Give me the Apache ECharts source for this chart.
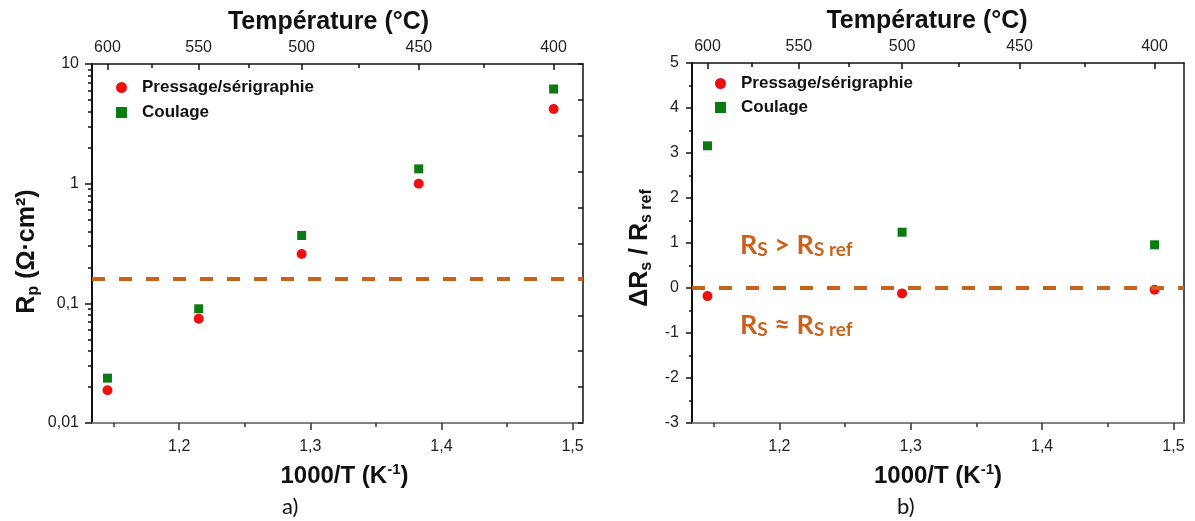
<!DOCTYPE html>
<html><head><meta charset="utf-8">
<script src="https://cdn.jsdelivr.net/npm/echarts@6/dist/echarts.min.js"></script>
<style>html,body{margin:0;padding:0;background:#fff}#c{width:1195px;height:521px}</style>
</head><body><div id="c"></div>
<script>
// ---- data ----
const invT_A = [1.1453, 1.2149, 1.2934, 1.3827, 1.4856];   // 1000/T (K^-1) at 600,550,500,450,400 °C
const rpPressage = [0.0188, 0.0744, 0.258, 1.00, 4.21];
const rpCoulage  = [0.0237, 0.090, 0.369, 1.33, 6.18];
const rpThreshold = 0.16;

const invT_B = [1.1453, 1.2934, 1.4856];                     // 600, 500, 400 °C
const dRsPressage = [-0.18, -0.12, -0.04];
const dRsCoulage  = [3.16, 1.24, 0.96];
const dRsThreshold = 0;

const tempMajorTicks = [600, 550, 500, 450, 400];
const tempMinorTicks = [575, 525, 475, 425];
const xMajorTicks = [1.2, 1.3, 1.4, 1.5];
const xMinorTicks = [1.15, 1.25, 1.35, 1.45];
const logMinorTicks = [0.02,0.03,0.04,0.05,0.06,0.07,0.08,0.09,0.2,0.3,0.4,0.5,0.6,0.7,0.8,0.9,2,3,4,5,6,7,8,9];

const seriesNames = ['Pressage/sérigraphie', 'Coulage'];

// ---- style ----
const RED = '#F00F0F', GREEN = '#0B7A10', ORANGE = '#C9631C';
const X_MIN = 1.1335, X_MAX = 1.508;
const FONT = 'Liberation Sans';
const NAME_SIZE = 25;
const toInvT = t => 1000 / (t + 273.15);
const comma = v => String(v).replace('.', ',');

const chart = echarts.init(document.getElementById('c'), null, {renderer: 'canvas'});

function xAxesFor(gi, topPad, botPad) {
  return [
    { // bottom major
      gridIndex: gi, type: 'value', position: 'bottom', min: X_MIN, max: X_MAX,
      axisLine: {onZero: false, lineStyle: {color: '#808080', width: 2}},
      axisTick: {inside: false, length: 7, lineStyle: {color: '#333', width: 1.5}, customValues: xMajorTicks},
      axisLabel: {customValues: xMajorTicks, formatter: v => v.toFixed(1).replace('.', ','), margin: 16, fontSize: 16, color: '#222', fontFamily: FONT},
      splitLine: {show: false},
      name: '{b|1000/T (K}{sup|-1}{b|)}', nameLocation: 'middle', nameGap: 39,
      nameTextStyle: {padding: botPad, rich: {
        b: {fontSize: 24, fontWeight: 'bold', fontFamily: FONT, color: '#111'},
        sup: {fontSize: 15, fontWeight: 'bold', fontFamily: FONT, color: '#111', padding: [0,0,14,0]}
      }}
    },
    { // bottom minor
      gridIndex: gi, type: 'value', position: 'bottom', min: X_MIN, max: X_MAX,
      axisLine: {show: false, onZero: false},
      axisTick: {inside: false, length: 4, lineStyle: {color: '#333', width: 1.5}, customValues: xMinorTicks},
      axisLabel: {show: false}, splitLine: {show: false}
    },
    { // top major (temperature)
      gridIndex: gi, type: 'value', position: 'top', min: X_MIN, max: X_MAX,
      axisLine: {onZero: false, lineStyle: {color: '#111', width: 1.5}},
      axisTick: {inside: true, length: 6, lineStyle: {color: '#111', width: 1.5}, customValues: tempMajorTicks.map(toInvT)},
      axisLabel: {customValues: tempMajorTicks.map(toInvT), formatter: v => String(Math.round(1000 / v - 273.15)), margin: 8, fontSize: 16, color: '#222', fontFamily: FONT},
      splitLine: {show: false},
      name: 'Température (°C)', nameLocation: 'middle', nameGap: 25,
      nameTextStyle: {fontSize: NAME_SIZE, fontWeight: 'bold', fontFamily: FONT, color: '#111', padding: topPad}
    },
    { // top minor
      gridIndex: gi, type: 'value', position: 'top', min: X_MIN, max: X_MAX,
      axisLine: {show: false, onZero: false},
      axisTick: {inside: true, length: 4, lineStyle: {color: '#111', width: 1.5}, customValues: tempMinorTicks.map(toInvT)},
      axisLabel: {show: false}, splitLine: {show: false}
    }
  ];
}

const yAxes = [
  { // 0: left log
    gridIndex: 0, type: 'log', logBase: 10, min: 0.01, max: 10, position: 'left',
    axisLine: {onZero: false, lineStyle: {color: '#111', width: 2}},
    axisTick: {inside: false, length: 7, lineStyle: {color: '#111', width: 1.5}},
    axisLabel: {formatter: comma, margin: 13, fontSize: 16, color: '#222', fontFamily: FONT},
    splitLine: {show: false},
    name: '{b|R}{sub|p}{b| (Ω·cm²)}', nameLocation: 'middle', nameRotate: 90, nameGap: 50,
    nameTextStyle: {padding: [0, 16, 0, 0], rich: {
      b: {fontSize: NAME_SIZE, fontWeight: 'bold', fontFamily: FONT, color: '#111'},
      sub: {fontSize: 16, fontWeight: 'bold', fontFamily: FONT, color: '#111', padding: [14,0,0,0]}
    }}
  },
  { // 1: left log minor ticks
    gridIndex: 0, type: 'log', logBase: 10, min: 0.01, max: 10, position: 'left',
    axisLine: {show: false, onZero: false},
    axisTick: {inside: false, length: 4, lineStyle: {color: '#111', width: 1.5}, customValues: logMinorTicks},
    axisLabel: {show: false}, splitLine: {show: false}
  },
  { // 2: right frame with inward ticks
    gridIndex: 0, type: 'value', min: 0, max: 10, interval: 1, position: 'right',
    axisLine: {onZero: false, lineStyle: {color: '#111', width: 1.5}},
    axisTick: {inside: true, length: 5, lineStyle: {color: '#111', width: 1.5}},
    axisLabel: {show: false}, splitLine: {show: false}
  },
  { // 3: right chart linear
    gridIndex: 1, type: 'value', min: -3, max: 5, interval: 1, position: 'left',
    axisLine: {onZero: false, lineStyle: {color: '#111', width: 2}},
    axisTick: {inside: false, length: 6, lineStyle: {color: '#111', width: 1.5}},
    minorTick: {show: true, splitNumber: 2, length: 3, lineStyle: {color: '#111', width: 1.5}},
    axisLabel: {margin: 13, fontSize: 16, color: '#222', fontFamily: FONT},
    splitLine: {show: false},
    name: '{b|ΔR}{sub|s}{b| / R}{sub|s ref}', nameLocation: 'middle', nameRotate: 90, nameGap: 37,
    nameTextStyle: {padding: [0, 10, 0, 0], rich: {
      b: {fontSize: NAME_SIZE, fontWeight: 'bold', fontFamily: FONT, color: '#111'},
      sub: {fontSize: 16, fontWeight: 'bold', fontFamily: FONT, color: '#111', padding: [14,0,0,0]}
    }}
  },
  { // 4: right frame
    gridIndex: 1, type: 'value', min: -3, max: 5, position: 'right',
    axisLine: {onZero: false, lineStyle: {color: '#111', width: 1.5}},
    axisTick: {show: false}, axisLabel: {show: false}, splitLine: {show: false}
  }
];

function pairs(xs, ys) { return xs.map((x, i) => [x, ys[i]]); }

const dashed = (y) => ({
  silent: true, symbol: 'none', label: {show: false},
  lineStyle: {color: ORANGE, width: 4, type: [13, 14], opacity: 1},
  data: [{yAxis: y}]
});

const annRich = {
  r: {fontSize: 27, fontWeight: 'bold', fontFamily: 'Lato', fill: ORANGE, color: ORANGE},
  s: {fontSize: 19, fontWeight: 'bold', fontFamily: 'Lato', fill: ORANGE, color: ORANGE, padding: [8,0,0,0]}
};

const legendText = {fontSize: 17, fontWeight: 'bold', fontFamily: FONT, color: '#111', lineHeight: 12, padding: [0,0,0,10]};

const option = {
  animation: false,
  backgroundColor: '#fff',
  grid: [
    {left: 92, top: 64, width: 491, height: 359},
    {left: 692, top: 63, width: 492, height: 360}
  ],
  xAxis: [...xAxesFor(0, [0, 18, 0, 0], [0, 0, 0, 14]), ...xAxesFor(1, [0, 22, 0, 0], [0, 0, 0, 0])],
  yAxis: yAxes,
  legend: [
    {data: seriesNames, orient: 'vertical', left: 116, top: 79, padding: 0, itemGap: 8, itemWidth: 11, itemHeight: 11, textStyle: legendText},
    {data: seriesNames, orient: 'vertical', left: 715, top: 75, padding: 0, itemGap: 7, itemWidth: 11, itemHeight: 11, textStyle: legendText}
  ],
  series: [
    {name: seriesNames[0], type: 'scatter', xAxisIndex: 0, yAxisIndex: 0, symbol: 'circle', symbolSize: 10,
     itemStyle: {color: RED, opacity: 1}, data: pairs(invT_A, rpPressage), markLine: dashed(rpThreshold), z: 3},
    {name: seriesNames[1], type: 'scatter', xAxisIndex: 0, yAxisIndex: 0, symbol: 'rect', symbolSize: 9,
     itemStyle: {color: GREEN, opacity: 1}, data: pairs(invT_A, rpCoulage), z: 3},
    {name: seriesNames[0], type: 'scatter', xAxisIndex: 4, yAxisIndex: 3, symbol: 'circle', symbolSize: 10,
     itemStyle: {color: RED, opacity: 1}, data: pairs(invT_B, dRsPressage), markLine: dashed(dRsThreshold), z: 3},
    {name: seriesNames[1], type: 'scatter', xAxisIndex: 4, yAxisIndex: 3, symbol: 'rect', symbolSize: 9,
     itemStyle: {color: GREEN, opacity: 1}, data: pairs(invT_B, dRsCoulage), z: 3}
  ],
  graphic: [
    {type: 'text', left: 740, top: 232, style: {text: '{r|R}{s|S}{r| > R}{s|S ref}', rich: annRich, fill: ORANGE}},
    {type: 'text', left: 740, top: 312, style: {text: '{r|R}{s|S}{r| ≈ R}{s|S ref}', rich: annRich, fill: ORANGE}},
    {type: 'text', left: 282, top: 496, style: {text: 'a)', fontSize: 22, fontFamily: 'Lato', fill: '#111'}},
    {type: 'text', left: 897, top: 496, style: {text: 'b)', fontSize: 22, fontFamily: 'Lato', fill: '#111'}}
  ]
};
chart.setOption(option);
</script>
</body></html>
